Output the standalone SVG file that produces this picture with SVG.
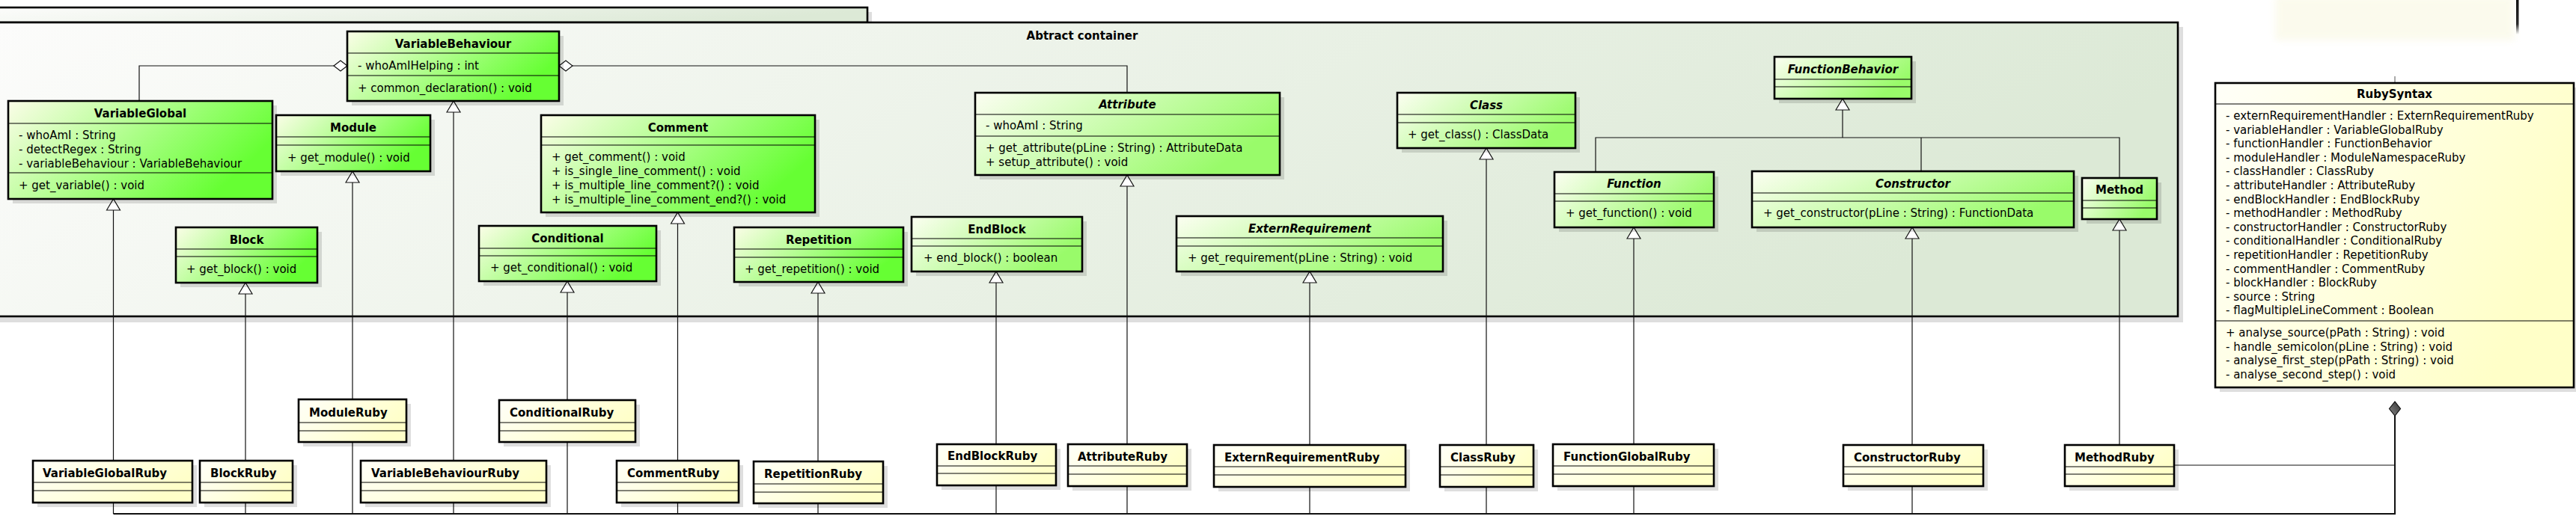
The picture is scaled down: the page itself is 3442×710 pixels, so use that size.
<svg xmlns="http://www.w3.org/2000/svg" width="3442" height="710" viewBox="0 0 3442 710">
<defs>
<linearGradient id="gPkg" x1="0" y1="0" x2="1" y2="0.2"><stop offset="0" stop-color="#fcfcfb"/><stop offset="1" stop-color="#dce9d6"/></linearGradient>
<linearGradient id="gG1" x1="0" y1="0" x2="1" y2="0.4"><stop offset="0" stop-color="#fbfde8"/><stop offset="1" stop-color="#66ff33"/></linearGradient>
<linearGradient id="gG2" x1="0" y1="0" x2="1" y2="0.4"><stop offset="0" stop-color="#fcfef2"/><stop offset="1" stop-color="#99fb6a"/></linearGradient>
<linearGradient id="gY" x1="0" y1="0" x2="1" y2="0.4"><stop offset="0" stop-color="#fffff8"/><stop offset="1" stop-color="#ffffc8"/></linearGradient>
<linearGradient id="gD" x1="0" y1="0" x2="1" y2="1"><stop offset="0" stop-color="#888"/><stop offset="1" stop-color="#333"/></linearGradient>
<linearGradient id="gL" x1="0" y1="0" x2="0" y2="1"><stop offset="0" stop-color="#111" stop-opacity="1"/><stop offset="0.7" stop-color="#111" stop-opacity="0.9"/><stop offset="1" stop-color="#111" stop-opacity="0"/></linearGradient>
<filter id="blur" x="-20%" y="-50%" width="140%" height="200%"><feGaussianBlur stdDeviation="5"/></filter>
<marker id="gen" markerUnits="userSpaceOnUse" viewBox="-2 -11 19 22" markerWidth="19" markerHeight="22" refX="15" refY="0" orient="auto-start-reverse" overflow="visible"><path d="M0,-9 L15,0 L0,9 Z" fill="#fff" stroke="#111" stroke-width="1.2"/></marker>
<marker id="agg" markerUnits="userSpaceOnUse" viewBox="-2 -9 22 18" markerWidth="22" markerHeight="18" refX="18" refY="0" orient="auto-start-reverse" overflow="visible"><path d="M0,0 L9,-7 L18,0 L9,7 Z" fill="#fff" stroke="#111" stroke-width="1.2"/></marker>
<marker id="comp" markerUnits="userSpaceOnUse" viewBox="-2 -9 23 18" markerWidth="23" markerHeight="18" refX="19" refY="0" orient="auto-start-reverse" overflow="visible"><path d="M0,0 L9.5,-7.5 L19,0 L9.5,7.5 Z" fill="url(#gD)" stroke="#111" stroke-width="1.2"/></marker>
</defs>
<style>
.box{stroke:#000;stroke-width:2.6}
.g1{fill:url(#gG1)}
.g2{fill:url(#gG2)}
.y{fill:url(#gY)}
.sh{fill:#000;fill-opacity:.13}
.sep{stroke:#000;stroke-width:1}
.nm{font-family:"DejaVu Sans",sans-serif;font-size:15px;font-weight:bold;fill:#000}
.ctr{text-anchor:middle}
.it{font-style:italic}
.t{font-family:"DejaVu Sans",sans-serif;font-size:15px;font-weight:normal;fill:#000}
.c{fill:none;stroke:#111;stroke-width:1.2}
.cg{fill:none;stroke:#111;stroke-width:1.2;marker-start:url(#gen)}
.ca{fill:none;stroke:#111;stroke-width:1.2;marker-start:url(#agg)}
.bus{fill:none;stroke:#111;stroke-width:2}
</style>
<rect width="3442" height="710" fill="#fff"/>

<g id="ghost">
<rect x="3040" y="-6" width="320" height="60" fill="#f7f5d8" opacity="0.45" filter="url(#blur)"/>
<rect x="3362" y="0" width="3.5" height="46" fill="url(#gL)"/>
<line x1="3200" y1="102" x2="3200" y2="111" stroke="#555" stroke-width="1"/>
</g>

<g id="package">
<rect x="-4" y="16" width="1169" height="20" class="sh"/>
<rect x="-10" y="10" width="1169" height="20" fill="url(#gPkg)" class="box"/>
<rect x="-4" y="36" width="2921" height="395" class="sh"/>
<rect x="-10" y="30" width="2920" height="393" fill="url(#gPkg)" class="box"/>
<text x="1446" y="53" class="nm ctr" font-size="16">Abtract container</text>
</g>

<g id="connectors">
<path class="ca" d="M464,88 H186 V135"/>
<path class="ca" d="M747,88 H1506 V124"/>
<path class="cg" d="M151.5,266 V616"/>
<path class="cg" d="M328,378 V616"/>
<path class="cg" d="M471,229 V534"/>
<path class="cg" d="M606,135 V616"/>
<path class="cg" d="M758,376 V535"/>
<path class="cg" d="M905.5,284 V616"/>
<path class="cg" d="M1093,377 V617"/>
<path class="cg" d="M1331,363 V594"/>
<path class="cg" d="M1506,234 V594"/>
<path class="cg" d="M1750,363 V595"/>
<path class="cg" d="M1986,198 V595"/>
<path class="cg" d="M2183,304 V594"/>
<path class="cg" d="M2555,304 V595"/>
<path class="cg" d="M2832,293 V595"/>
<path class="cg" d="M2462,132 V184"/>
<path class="c" d="M2132,230 V184 H2832 V238"/>
<path class="c" d="M2567,184 V229"/>
<path class="c" d="M151.5,672 V687 M328,672 V687 M471,591 V687 M606,672 V687 M758,591 V687 M905.5,672 V687 M1093,673 V687 M1331,649 V687 M1506,650 V687 M1750,651 V687 M1986,651 V687 M2183,650 V687 M2555,650 V687"/>
<path class="c" d="M2905,622 H3200"/>
<path class="bus" d="M151.5,687 H3200 V537" marker-end="url(#comp)"/>
</g>

<g id="VariableBehaviour">
<rect x="470" y="48" width="283" height="93" class="sh"/>
<rect x="464" y="42" width="283" height="93" class="g1 box"/>
<path class="sep" d="M464,71 H747 M464,101 H747"/>
<text x="605.5" y="64" class="nm ctr">VariableBehaviour</text>
<text x="478" y="93" class="t">- whoAmIHelping : int</text>
<text x="478" y="123" class="t">+ common_declaration() : void</text>
</g>

<g id="VariableGlobal">
<rect x="17" y="141" width="353" height="131" class="sh"/>
<rect x="11" y="135" width="353" height="131" class="g1 box"/>
<path class="sep" d="M11,165 H364 M11,231 H364"/>
<text x="187.5" y="157" class="nm ctr">VariableGlobal</text>
<text x="25" y="186" class="t">- whoAmI : String</text>
<text x="25" y="205" class="t">- detectRegex : String</text>
<text x="25" y="224" class="t">- variableBehaviour : VariableBehaviour</text>
<text x="25" y="253" class="t">+ get_variable() : void</text>
</g>

<g id="Module">
<rect x="375" y="160" width="206" height="75" class="sh"/>
<rect x="369" y="154" width="206" height="75" class="g1 box"/>
<path class="sep" d="M369,183 H575 M369,194 H575"/>
<text x="472" y="176" class="nm ctr">Module</text>
<text x="384" y="216" class="t">+ get_module() : void</text>
</g>

<g id="Block">
<rect x="241" y="310" width="189" height="74" class="sh"/>
<rect x="235" y="304" width="189" height="74" class="g1 box"/>
<path class="sep" d="M235,333 H424 M235,343 H424"/>
<text x="329.5" y="326" class="nm ctr">Block</text>
<text x="249" y="365" class="t">+ get_block() : void</text>
</g>

<g id="Comment">
<rect x="729" y="160" width="366" height="130" class="sh"/>
<rect x="723" y="154" width="366" height="130" class="g1 box"/>
<path class="sep" d="M723,183 H1089 M723,194 H1089"/>
<text x="906" y="176" class="nm ctr">Comment</text>
<text x="737" y="215" class="t">+ get_comment() : void</text>
<text x="737" y="234" class="t">+ is_single_line_comment() : void</text>
<text x="737" y="253" class="t">+ is_multiple_line_comment?() : void</text>
<text x="737" y="271.5" class="t">+ is_multiple_line_comment_end?() : void</text>
</g>

<g id="Conditional">
<rect x="646" y="308" width="237" height="74" class="sh"/>
<rect x="640" y="302" width="237" height="74" class="g1 box"/>
<path class="sep" d="M640,332 H877 M640,342 H877"/>
<text x="758.5" y="324" class="nm ctr">Conditional</text>
<text x="655" y="363" class="t">+ get_conditional() : void</text>
</g>

<g id="Repetition">
<rect x="987" y="310" width="226" height="73" class="sh"/>
<rect x="981" y="304" width="226" height="73" class="g1 box"/>
<path class="sep" d="M981,333 H1207 M981,344 H1207"/>
<text x="1094" y="326" class="nm ctr">Repetition</text>
<text x="995" y="365" class="t">+ get_repetition() : void</text>
</g>

<g id="EndBlock">
<rect x="1224" y="296" width="228" height="73" class="sh"/>
<rect x="1218" y="290" width="228" height="73" class="g2 box"/>
<path class="sep" d="M1218,319 H1446 M1218,329 H1446"/>
<text x="1332" y="312" class="nm ctr">EndBlock</text>
<text x="1234" y="350" class="t">+ end_block() : boolean</text>
</g>

<g id="Attribute">
<rect x="1309" y="130" width="407" height="110" class="sh"/>
<rect x="1303" y="124" width="407" height="110" class="g2 box"/>
<path class="sep" d="M1303,153 H1710 M1303,182 H1710"/>
<text x="1506.5" y="145" class="nm ctr it">Attribute</text>
<text x="1317" y="173" class="t">- whoAmI : String</text>
<text x="1317" y="203" class="t">+ get_attribute(pLine : String) : AttributeData</text>
<text x="1317" y="222" class="t">+ setup_attribute() : void</text>
</g>

<g id="ExternRequirement">
<rect x="1578" y="295" width="356" height="74" class="sh"/>
<rect x="1572" y="289" width="356" height="74" class="g2 box"/>
<path class="sep" d="M1572,318 H1928 M1572,329 H1928"/>
<text x="1750" y="311" class="nm ctr it">ExternRequirement</text>
<text x="1587" y="350" class="t">+ get_requirement(pLine : String) : void</text>
</g>

<g id="Class">
<rect x="1873" y="130" width="238" height="74" class="sh"/>
<rect x="1867" y="124" width="238" height="74" class="g2 box"/>
<path class="sep" d="M1867,153 H2105 M1867,164 H2105"/>
<text x="1986" y="146" class="nm ctr it">Class</text>
<text x="1881" y="185" class="t">+ get_class() : ClassData</text>
</g>

<g id="Function">
<rect x="2083" y="236" width="213" height="74" class="sh"/>
<rect x="2077" y="230" width="213" height="74" class="g2 box"/>
<path class="sep" d="M2077,259 H2290 M2077,269 H2290"/>
<text x="2183.5" y="251" class="nm ctr it">Function</text>
<text x="2092" y="290" class="t">+ get_function() : void</text>
</g>

<g id="FunctionBehavior">
<rect x="2377" y="82" width="183" height="56" class="sh"/>
<rect x="2371" y="76" width="183" height="56" class="g2 box"/>
<path class="sep" d="M2371,106 H2554 M2371,116 H2554"/>
<text x="2462.5" y="98" class="nm ctr it">FunctionBehavior</text>
</g>

<g id="Constructor">
<rect x="2347" y="235" width="430" height="75" class="sh"/>
<rect x="2341" y="229" width="430" height="75" class="g2 box"/>
<path class="sep" d="M2341,258 H2771 M2341,269 H2771"/>
<text x="2556" y="251" class="nm ctr it">Constructor</text>
<text x="2356" y="290" class="t">+ get_constructor(pLine : String) : FunctionData</text>
</g>

<g id="Method">
<rect x="2788" y="244" width="100" height="55" class="sh"/>
<rect x="2782" y="238" width="100" height="55" class="g2 box"/>
<path class="sep" d="M2782,268 H2882 M2782,278 H2882"/>
<text x="2832" y="259" class="nm ctr">Method</text>
</g>

<g id="VariableGlobalRuby">
<rect x="50" y="622" width="213" height="56" class="sh"/>
<rect x="44" y="616" width="213" height="56" class="y box"/>
<path class="sep" d="M44,645 H257 M44,656 H257"/>
<text x="57" y="638" class="nm">VariableGlobalRuby</text>
</g>

<g id="BlockRuby">
<rect x="273" y="622" width="124" height="56" class="sh"/>
<rect x="267" y="616" width="124" height="56" class="y box"/>
<path class="sep" d="M267,645 H391 M267,656 H391"/>
<text x="281" y="638" class="nm">BlockRuby</text>
</g>

<g id="ModuleRuby">
<rect x="405" y="540" width="144" height="57" class="sh"/>
<rect x="399" y="534" width="144" height="57" class="y box"/>
<path class="sep" d="M399,565 H543 M399,576 H543"/>
<text x="413" y="557" class="nm">ModuleRuby</text>
</g>

<g id="VariableBehaviourRuby">
<rect x="488" y="622" width="248" height="56" class="sh"/>
<rect x="482" y="616" width="248" height="56" class="y box"/>
<path class="sep" d="M482,645 H730 M482,656 H730"/>
<text x="496" y="638" class="nm">VariableBehaviourRuby</text>
</g>

<g id="ConditionalRuby">
<rect x="673" y="541" width="182" height="56" class="sh"/>
<rect x="667" y="535" width="182" height="56" class="y box"/>
<path class="sep" d="M667,565 H849 M667,576 H849"/>
<text x="681" y="557" class="nm">ConditionalRuby</text>
</g>

<g id="CommentRuby">
<rect x="830" y="622" width="163" height="56" class="sh"/>
<rect x="824" y="616" width="163" height="56" class="y box"/>
<path class="sep" d="M824,645 H987 M824,656 H987"/>
<text x="838" y="638" class="nm">CommentRuby</text>
</g>

<g id="RepetitionRuby">
<rect x="1013" y="623" width="173" height="56" class="sh"/>
<rect x="1007" y="617" width="173" height="56" class="y box"/>
<path class="sep" d="M1007,647 H1180 M1007,658 H1180"/>
<text x="1021" y="639" class="nm">RepetitionRuby</text>
</g>

<g id="EndBlockRuby">
<rect x="1258" y="600" width="159" height="55" class="sh"/>
<rect x="1252" y="594" width="159" height="55" class="y box"/>
<path class="sep" d="M1252,623 H1411 M1252,633 H1411"/>
<text x="1266" y="615" class="nm">EndBlockRuby</text>
</g>

<g id="AttributeRuby">
<rect x="1433" y="600" width="159" height="56" class="sh"/>
<rect x="1427" y="594" width="159" height="56" class="y box"/>
<path class="sep" d="M1427,623 H1586 M1427,634 H1586"/>
<text x="1440" y="616" class="nm">AttributeRuby</text>
</g>

<g id="ExternRequirementRuby">
<rect x="1628" y="601" width="256" height="56" class="sh"/>
<rect x="1622" y="595" width="256" height="56" class="y box"/>
<path class="sep" d="M1622,624 H1878 M1622,635 H1878"/>
<text x="1636" y="617" class="nm">ExternRequirementRuby</text>
</g>

<g id="ClassRuby">
<rect x="1930" y="601" width="125" height="56" class="sh"/>
<rect x="1924" y="595" width="125" height="56" class="y box"/>
<path class="sep" d="M1924,624 H2049 M1924,635 H2049"/>
<text x="1938" y="617" class="nm">ClassRuby</text>
</g>

<g id="FunctionGlobalRuby">
<rect x="2081" y="600" width="215" height="56" class="sh"/>
<rect x="2075" y="594" width="215" height="56" class="y box"/>
<path class="sep" d="M2075,623 H2290 M2075,634 H2290"/>
<text x="2089" y="616" class="nm">FunctionGlobalRuby</text>
</g>

<g id="ConstructorRuby">
<rect x="2469" y="601" width="187" height="55" class="sh"/>
<rect x="2463" y="595" width="187" height="55" class="y box"/>
<path class="sep" d="M2463,624 H2650 M2463,634 H2650"/>
<text x="2477" y="617" class="nm">ConstructorRuby</text>
</g>

<g id="MethodRuby">
<rect x="2765" y="601" width="146" height="55" class="sh"/>
<rect x="2759" y="595" width="146" height="55" class="y box"/>
<path class="sep" d="M2759,624 H2905 M2759,634 H2905"/>
<text x="2772" y="617" class="nm">MethodRuby</text>
</g>

<g id="RubySyntax">
<rect x="2966" y="117" width="479" height="407" class="sh"/>
<rect x="2960" y="111" width="479" height="407" class="y box"/>
<path class="sep" d="M2960,139 H3439 M2960,429 H3439"/>
<text x="3199.5" y="131" class="nm ctr">RubySyntax</text>
<text x="2974" y="160" class="t">- externRequirementHandler : ExternRequirementRuby</text>
<text x="2974" y="178.6" class="t">- variableHandler : VariableGlobalRuby</text>
<text x="2974" y="197.2" class="t">- functionHandler : FunctionBehavior</text>
<text x="2974" y="215.8" class="t">- moduleHandler : ModuleNamespaceRuby</text>
<text x="2974" y="234.4" class="t">- classHandler : ClassRuby</text>
<text x="2974" y="253" class="t">- attributeHandler : AttributeRuby</text>
<text x="2974" y="271.6" class="t">- endBlockHandler : EndBlockRuby</text>
<text x="2974" y="290.2" class="t">- methodHandler : MethodRuby</text>
<text x="2974" y="308.8" class="t">- constructorHandler : ConstructorRuby</text>
<text x="2974" y="327.4" class="t">- conditionalHandler : ConditionalRuby</text>
<text x="2974" y="346" class="t">- repetitionHandler : RepetitionRuby</text>
<text x="2974" y="364.6" class="t">- commentHandler : CommentRuby</text>
<text x="2974" y="383.2" class="t">- blockHandler : BlockRuby</text>
<text x="2974" y="401.8" class="t">- source : String</text>
<text x="2974" y="420.4" class="t">- flagMultipleLineComment : Boolean</text>
<text x="2974" y="450" class="t">+ analyse_source(pPath : String) : void</text>
<text x="2974" y="468.6" class="t">- handle_semicolon(pLine : String) : void</text>
<text x="2974" y="487.2" class="t">- analyse_first_step(pPath : String) : void</text>
<text x="2974" y="505.8" class="t">- analyse_second_step() : void</text>
</g>
</svg>
